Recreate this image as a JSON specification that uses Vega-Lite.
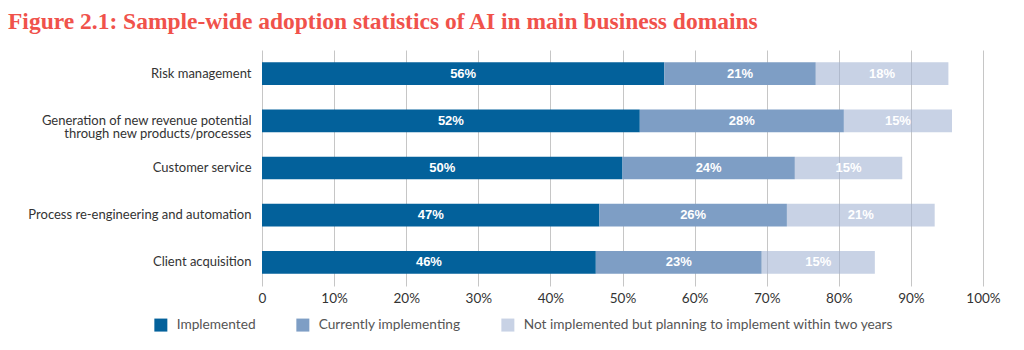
{
  "$schema": "https://vega.github.io/schema/vega-lite/v6.json",
  "width": 721,
  "height": 236,
  "autosize": {"type": "none"},
  "padding": {"left": 262, "top": 50, "right": 41, "bottom": 64},
  "background": "white",
  "config": {"view": {"stroke": null}},
  "title": {
    "text": "Figure 2.1: Sample-wide adoption statistics of AI in main business domains",
    "anchor": "start",
    "frame": "group",
    "dx": -254,
    "offset": 17,
    "font": "Liberation Serif",
    "fontSize": 23.5,
    "fontWeight": "bold",
    "color": "#f0524b"
  },
  "data": {
    "values": [
      {"domain": "Risk management", "status": "Implemented", "value": 55.8, "label": "56%"},
      {"domain": "Risk management", "status": "Currently implementing", "value": 21.0, "label": "21%"},
      {"domain": "Risk management", "status": "Not implemented but planning to implement within two years", "value": 18.4, "label": "18%"},
      {"domain": "Generation of new revenue potential through new products/processes", "status": "Implemented", "value": 52.4, "label": "52%"},
      {"domain": "Generation of new revenue potential through new products/processes", "status": "Currently implementing", "value": 28.3, "label": "28%"},
      {"domain": "Generation of new revenue potential through new products/processes", "status": "Not implemented but planning to implement within two years", "value": 15.0, "label": "15%"},
      {"domain": "Customer service", "status": "Implemented", "value": 50.0, "label": "50%"},
      {"domain": "Customer service", "status": "Currently implementing", "value": 23.9, "label": "24%"},
      {"domain": "Customer service", "status": "Not implemented but planning to implement within two years", "value": 14.9, "label": "15%"},
      {"domain": "Process re-engineering and automation", "status": "Implemented", "value": 46.8, "label": "47%"},
      {"domain": "Process re-engineering and automation", "status": "Currently implementing", "value": 26.0, "label": "26%"},
      {"domain": "Process re-engineering and automation", "status": "Not implemented but planning to implement within two years", "value": 20.5, "label": "21%"},
      {"domain": "Client acquisition", "status": "Implemented", "value": 46.3, "label": "46%"},
      {"domain": "Client acquisition", "status": "Currently implementing", "value": 23.0, "label": "23%"},
      {"domain": "Client acquisition", "status": "Not implemented but planning to implement within two years", "value": 15.7, "label": "15%"}
    ]
  },
  "transform": [
    {"stack": "value", "groupby": ["domain"], "as": ["x0", "x1"]}
  ],
  "encoding": {
    "y": {
      "field": "domain",
      "type": "nominal",
      "sort": ["Risk management", "Generation of new revenue potential through new products/processes", "Customer service", "Process re-engineering and automation", "Client acquisition"],
      "scale": {"paddingInner": 0.52, "paddingOuter": 0.26},
      "axis": {
        "title": null,
        "domain": false,
        "ticks": false,
        "labelPadding": 11,
        "labelFont": "Lato",
        "labelFontSize": 13,
        "labelColor": "#333333",
        "labelLineHeight": 13,
        "labelLimit": 300,
        "labelExpr": "datum.label == 'Generation of new revenue potential through new products/processes' ? ['Generation of new revenue potential', 'through new products/processes'] : datum.label"
      }
    }
  },
  "layer": [
    {
      "mark": {"type": "bar"},
      "encoding": {
        "x": {
          "field": "x0",
          "type": "quantitative",
          "scale": {"domain": [0, 100], "nice": false},
          "axis": {
            "title": null,
            "domain": false,
            "ticks": false,
            "grid": true,
            "gridColor": "#c6c6c6",
            "values": [0, 10, 20, 30, 40, 50, 60, 70, 80, 90, 100],
            "labelExpr": "datum.value == 0 ? '0' : datum.value + '%'",
            "labelFont": "Lato",
            "labelFontSize": 13.5,
            "labelColor": "#333333",
            "labelPadding": 5,
            "labelFlush": false
          }
        },
        "x2": {"field": "x1"},
        "color": {
          "field": "status",
          "type": "nominal",
          "scale": {
            "domain": ["Implemented", "Currently implementing", "Not implemented but planning to implement within two years"],
            "range": ["#03619b", "#7e9ec5", "rgba(160,178,210,0.58)"]
          },
          "legend": {
            "orient": "none",
            "legendX": -108,
            "legendY": 268,
            "direction": "horizontal",
            "title": null,
            "padding": 0,
            "symbolType": "square",
            "symbolSize": 169,
            "symbolStrokeWidth": 0,
            "symbolOpacity": 1,
            "labelFont": "Lato",
            "labelFontSize": 13.7,
            "labelColor": "#555555",
            "labelOffset": 9,
            "columnPadding": 40,
            "labelLimit": 400
          }
        }
      }
    },
    {
      "transform": [
        {"fold": ["x0", "x1"], "as": ["edge", "pos"]},
        {"aggregate": [{"op": "mean", "field": "pos", "as": "mid"}], "groupby": ["domain", "status", "label"]}
      ],
      "mark": {"type": "text", "color": "white", "font": "Liberation Sans", "fontWeight": "bold", "fontSize": 13, "baseline": "middle", "align": "center"},
      "encoding": {
        "x": {"field": "mid", "type": "quantitative"},
        "text": {"field": "label"}
      }
    }
  ]
}
